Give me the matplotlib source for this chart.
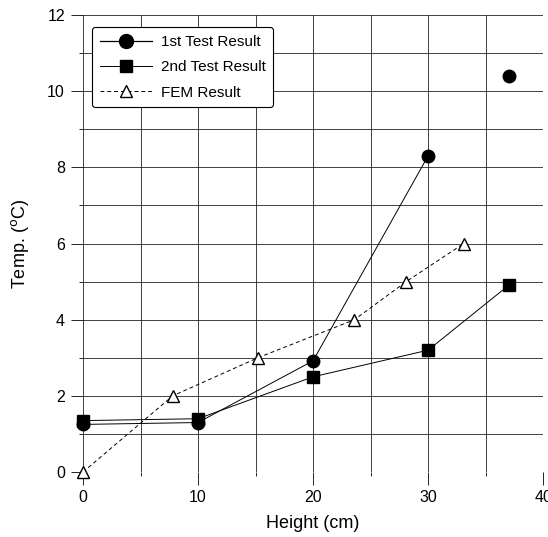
import matplotlib.pyplot as plt
import numpy as np

plt.rcParams['font.family'] = ['Liberation Sans', 'DejaVu Sans']

# Data
test1_x = [0, 10, 20, 30, 37]
test1_y = [1.25, 1.3, 2.92, 8.3, 10.4]
test2_x = [0, 10, 20, 30, 37]
test2_y = [1.35, 1.4, 2.5, 3.2, 4.9]
fem_x = [0, 7.8, 15.2, 23.6, 28.1, 33.1]
fem_y = [0, 2, 3, 4, 5, 6]

fig = plt.figure(figsize=(5.48, 5.37), dpi=100)
ax = fig.add_axes([0.1515, 0.121, 0.8395, 0.851])

# first test: line joins the first four points, last point stands alone
ax.plot(test1_x[:4], test1_y[:4], '-', color='black', lw=0.7, zorder=3)
ax.plot(test1_x, test1_y, 'o', color='black', ms=9, clip_on=False, zorder=4)
ax.plot([], [], '-o', color='black', lw=0.9, ms=10, label='1st Test Result')

ax.plot(test2_x, test2_y, '-s', color='black', lw=0.7, ms=9, clip_on=False,
        zorder=4, label='2nd Test Result')
ax.plot(fem_x, fem_y, '--^', color='black', lw=0.7, ms=8, mfc='white',
        mew=1.0, dashes=(4, 3), clip_on=False, zorder=4, label='FEM Result')

ax.set_xlim(0, 40)
ax.set_ylim(0, 12)
ax.set_xticks(np.arange(0, 41, 10))
ax.set_yticks(np.arange(0, 13, 2))
ax.set_xticks(np.arange(0, 41, 5), minor=True)
ax.set_yticks(np.arange(0, 13, 1), minor=True)
ax.grid(True, which='both', color='#222222', lw=0.6)
for s in ax.spines.values():
    s.set_visible(False)
ax.tick_params(which='major', length=9, width=0.6, labelsize=11.5,
               direction='out', pad=4)
ax.tick_params(which='minor', length=3, width=0.6, direction='out')

ax.set_xlabel('Height (cm)', fontsize=13, labelpad=7)
ax.set_ylabel('Temp. ($^{\\rm o}$C)', fontsize=13, labelpad=12)

leg = ax.legend(loc='upper left', bbox_to_anchor=(0.003, 0.99), fontsize=11,
                frameon=True, fancybox=True, edgecolor='black', framealpha=1,
                handlelength=3.4, borderpad=0.5, labelspacing=0.75,
                handletextpad=0.6)
leg.get_frame().set_linewidth(0.8)

fig.savefig('out.png', dpi=100)
